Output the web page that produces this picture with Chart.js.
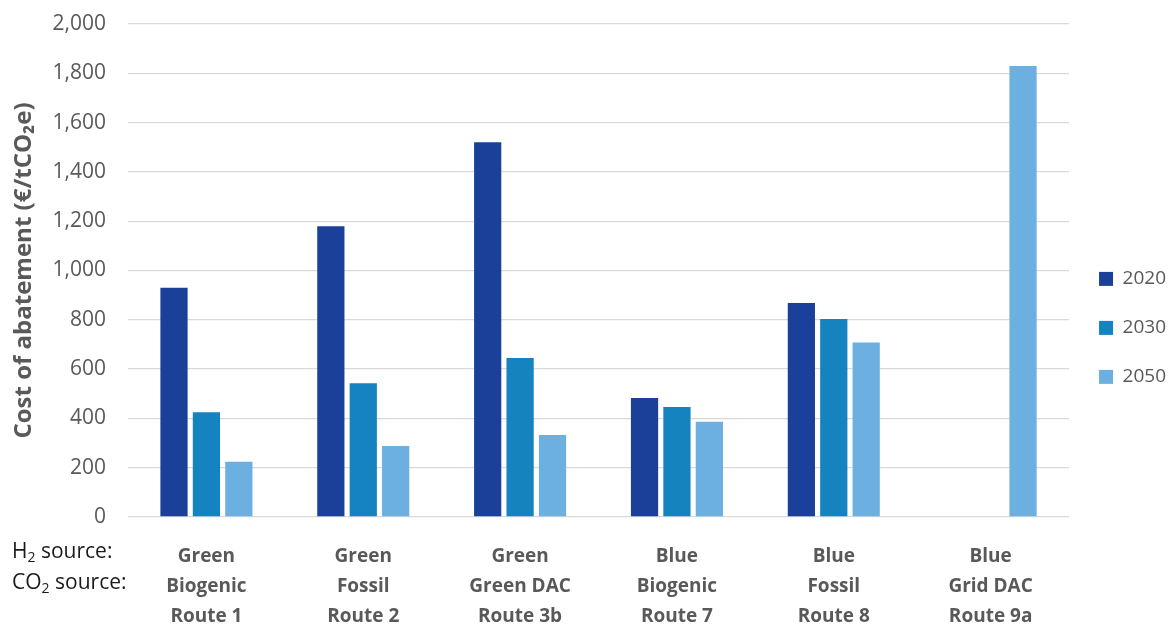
<!DOCTYPE html>
<html>
<head>
<meta charset="utf-8">
<script src="https://cdn.jsdelivr.net/npm/chart.js@4"></script>
<style>
  html, body { margin: 0; padding: 0; background: #fff; }
  #wrap { position: relative; width: 1176px; height: 624px; }
  .side { position: absolute; left: 12px; font: 21px "Open Sans", sans-serif; color: #1a1a1a; white-space: nowrap; }
  .side sub { font-size: 14px; vertical-align: -4px; line-height: 0; }
</style>
</head>
<body>
<div id="wrap">
  <canvas id="chart" width="1176" height="624"></canvas>
  <div class="side" style="top:536px">H<sub>2</sub> source:</div>
  <div class="side" style="top:567px">CO<sub>2</sub> source:</div>
</div>
<script>
// categories: H2 source / CO2 source / route
const categories = [
  ['Green', 'Biogenic', 'Route 1'],
  ['Green', 'Fossil', 'Route 2'],
  ['Green', 'Green DAC', 'Route 3b'],
  ['Blue', 'Biogenic', 'Route 7'],
  ['Blue', 'Fossil', 'Route 8'],
  ['Blue', 'Grid DAC', 'Route 9a']
];

// cost of abatement, EUR per tCO2e
const cost2020 = [930, 1180, 1520, 483, 868, null];
const cost2030 = [425, 543, 645, 446, 803, null];
const cost2050 = [224, 288, 333, 386, 708, 1830];

const seriesNames = ['2020', '2030', '2050'];
const seriesColors = ['#1a409a', '#1483c0', '#6bb0e1'];

const yTicks = [0, 200, 400, 600, 800, 1000, 1200, 1400, 1600, 1800, 2000];

const grey = '#595959';
const font = '"Open Sans", sans-serif';

const data = {
  labels: categories,
  datasets: [cost2020, cost2030, cost2050].map(function (values, i) {
    return {
      label: seriesNames[i],
      data: values,
      backgroundColor: seriesColors[i],
      categoryPercentage: 0.62,
      barPercentage: 0.84
    };
  })
};

new Chart(document.getElementById('chart'), {
  type: 'bar',
  data: data,
  options: {
    responsive: false,
    animation: false,
    layout: { padding: { top: 24, right: 0, left: 6, bottom: 0 } },
    plugins: {
      tooltip: { enabled: false },
      legend: {
        position: 'right',
        align: 'start',
        title: { display: true, text: ' ', padding: { top: 213, bottom: 0 }, font: { size: 2 } },
        labels: {
          boxWidth: 14,
          boxHeight: 14,
          padding: 30,
          color: grey,
          font: { family: font, size: 19 }
        }
      }
    },
    scales: {
      x: {
        grid: { display: false },
        border: { display: false },
        ticks: {
          color: grey,
          padding: 17,
          maxRotation: 0,
          font: { family: font, size: 19, weight: 'bold', lineHeight: 1.58 }
        },
        afterFit: function (scale) { scale.height = 107; }
      },
      y: {
        min: 0,
        max: 2000,
        afterBuildTicks: function (scale) {
          scale.ticks = yTicks.map(function (v) { return { value: v }; });
        },
        grid: { color: '#d9d9d9', lineWidth: 1.3, drawTicks: false },
        border: { display: false },
        ticks: {
          color: grey,
          padding: 22,
          font: { family: font, size: 21 },
          callback: function (v) { return v.toLocaleString('en-US'); }
        },
        title: {
          display: true,
          text: 'Cost of abatement (€/tCO₂e)',
          color: grey,
          padding: { top: 4, bottom: 0 },
          font: { family: font, size: 24, weight: 'bold' }
        },
        afterFit: function (scale) {
          scale.width = 122;
          scale.paddingTop = 0;
          scale.paddingBottom = 0;
        }
      }
    }
  }
});
</script>
</body>
</html>
